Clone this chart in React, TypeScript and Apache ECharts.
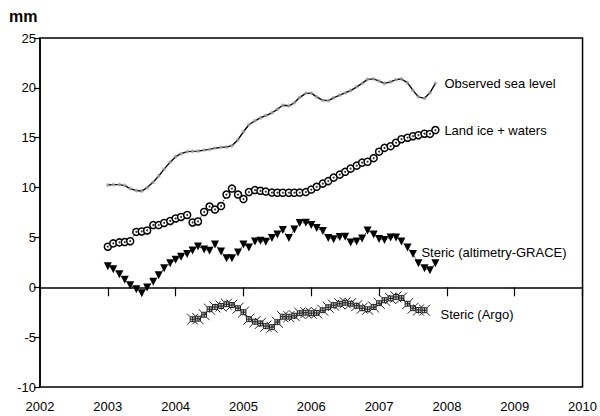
import React, { useEffect, useRef } from "react";
import * as echarts from "echarts";

// decimal years, monthly from Jan 2003 to Nov 2007
const months = [
  2003.0, 2003.08, 2003.17, 2003.25, 2003.33, 2003.42, 2003.5, 2003.58, 2003.67, 2003.75, 2003.83, 2003.92,
  2004.0, 2004.08, 2004.17, 2004.25, 2004.33, 2004.42, 2004.5, 2004.58, 2004.67, 2004.75, 2004.83, 2004.92,
  2005.0, 2005.08, 2005.17, 2005.25, 2005.33, 2005.42, 2005.5, 2005.58, 2005.67, 2005.75, 2005.83, 2005.92,
  2006.0, 2006.08, 2006.17, 2006.25, 2006.33, 2006.42, 2006.5, 2006.58, 2006.67, 2006.75, 2006.83, 2006.92,
  2007.0, 2007.08, 2007.17, 2007.25, 2007.33, 2007.42, 2007.5, 2007.58, 2007.67, 2007.75, 2007.83,
];

const observed = [
  10.26, 10.3, 10.3, 10.2, 9.9, 9.7, 9.65, 10.0, 10.55, 11.15,
  11.85, 12.55, 13.1, 13.4, 13.6, 13.63, 13.66, 13.75, 13.83, 13.95,
  14.03, 14.07, 14.2, 14.8, 15.6, 16.3, 16.7, 17.0, 17.22, 17.5,
  17.85, 18.25, 18.2, 18.5, 19.05, 19.45, 19.47, 19.1, 18.75, 18.72,
  19.0, 19.28, 19.5, 19.72, 20.1, 20.45, 20.85, 20.9, 20.68, 20.45,
  20.6, 20.83, 20.89, 20.5, 19.75, 19.1, 18.95, 19.5, 20.46,
];

const landIce = [
  4.07, 4.4, 4.5, 4.54, 4.62, 5.55, 5.6, 5.7, 6.24, 6.24,
  6.45, 6.65, 6.9, 7.05, 7.25, 6.5, 6.6, 7.55, 8.1, 7.8,
  8.15, 9.3, 9.9, 9.3, 8.85, 9.55, 9.75, 9.68, 9.6, 9.5,
  9.48, 9.48, 9.48, 9.48, 9.5, 9.55, 9.8, 10.08, 10.4, 10.65,
  11.0, 11.3, 11.58, 11.9, 12.2, 12.5, 12.59, 12.95, 13.6, 13.98,
  14.15, 14.5, 14.85, 15.0, 15.15, 15.25, 15.4, 15.38, 15.77,
];

const stericGrace = [
  2.1, 1.8, 1.3, 0.75, 0.2, -0.2, -0.6, -0.01, 0.55, 1.2,
  1.9, 2.4, 2.75, 3.05, 3.35, 3.7, 4.1, 3.8, 3.67, 4.3,
  3.6, 2.9, 2.9, 3.5, 4.3, 4.0, 4.6, 4.67, 4.57, 4.95,
  5.3, 5.75, 4.95, 5.8, 6.45, 6.47, 6.25, 5.95, 5.65, 4.95,
  4.82, 5.05, 5.07, 4.5, 4.6, 4.9, 5.7, 5.3, 4.85, 4.75,
  5.0, 5.0, 4.6, 4.0, 3.35, 2.4, 1.9, 1.7, 2.4,
];

// Argo record: Apr 2004 to Sep 2007
const argoMonths = months.slice(15, 57);
const stericArgo = [
  -3.2, -3.15, -2.75, -2.2, -1.97, -1.88, -1.7, -1.78, -2.1, -2.5,
  -3.2, -3.45, -3.62, -3.9, -4.0, -3.5, -2.95, -2.95, -2.85, -2.6,
  -2.55, -2.6, -2.57, -2.3, -2.0, -1.8, -1.65, -1.55, -1.65, -1.85,
  -2.1, -2.2, -1.98, -1.6, -1.3, -1.12, -0.97, -1.08, -1.65, -2.1,
  -2.28, -2.3,
];

const seriesNames = [
  "Observed sea level",
  "Land ice + waters",
  "Steric (altimetry-GRACE)",
  "Steric (Argo)",
];

const FONT = "'Liberation Sans', Arial, Helvetica, sans-serif";

const pair = (xs: number[], ys: number[]) => ys.map((y, i) => [xs[i], y]);

const ASTERISK = "path://M5,0L5,10M0,5L10,5M1.5,1.5L8.5,8.5M1.5,8.5L8.5,1.5";
const ARGO =
  "path://M6,6L14,6L14,14L6,14Z M6,6L1,1 M14,6L19,1 M14,14L19,19 M6,14L1,19 M6,10L14,10 M10,6L10,14";

export default function App() {
  const ref = useRef<HTMLDivElement>(null);
  useEffect(() => {
    const chart = echarts.init(ref.current!, null, { renderer: "svg" });
    const labelStyle = { show: true, fontSize: 13, color: "#000", fontFamily: FONT };
    chart.setOption({
      animation: false,
      backgroundColor: "#fff",
      textStyle: { fontFamily: FONT },
      grid: {
        left: 40,
        right: 16,
        top: 38,
        bottom: 29,
        show: true,
        borderColor: "#000",
        borderWidth: 1.5,
        backgroundColor: "transparent",
      },
      graphic: [
        {
          type: "text",
          left: 9,
          top: 8,
          style: { text: "mm", fontSize: 16, fontWeight: "bold", fill: "#000", fontFamily: FONT },
        },
      ],
      xAxis: {
        type: "value",
        min: 2002,
        max: 2010,
        interval: 1,
        axisLine: { show: true, lineStyle: { color: "#000", width: 1.5 } },
        axisTick: { show: true, length: 9, lineStyle: { color: "#000", width: 1.2 } },
        splitLine: { show: false },
        axisLabel: { color: "#000", fontSize: 13, margin: 13, formatter: (v: number) => String(v) },
      },
      yAxis: {
        type: "value",
        min: -10,
        max: 25,
        interval: 5,
        axisLine: { show: true, lineStyle: { color: "#000", width: 1.5 } },
        axisTick: { show: true, length: 6, lineStyle: { color: "#000", width: 1.2 } },
        splitLine: { show: false },
        axisLabel: { color: "#000", fontSize: 13, margin: 4 },
      },
      series: [
        {
          name: seriesNames[0],
          type: "line",
          data: pair(months, observed),
          symbol: ASTERISK,
          symbolSize: 4,
          itemStyle: { color: "#aaa", borderColor: "#999", borderWidth: 0.8 },
          lineStyle: { color: "#000", width: 1.4 },
          endLabel: { ...labelStyle, formatter: seriesNames[0], distance: 9 },
          z: 3,
        },
        {
          name: seriesNames[1],
          type: "line",
          data: pair(months, landIce),
          symbol: "circle",
          symbolSize: 7,
          itemStyle: { color: "#fff", borderColor: "#000", borderWidth: 1.5 },
          lineStyle: { color: "#000", width: 1, type: "dotted" },
          endLabel: { ...labelStyle, formatter: seriesNames[1], distance: 9 },
          z: 3,
        },
        {
          name: seriesNames[1] + " centre",
          type: "scatter",
          data: pair(months, landIce),
          symbol: "circle",
          symbolSize: 2,
          itemStyle: { color: "#000" },
          silent: true,
          z: 4,
        },
        {
          name: seriesNames[2],
          type: "line",
          data: pair(months, stericGrace),
          symbol: "triangle",
          symbolRotate: 180,
          symbolSize: 8,
          itemStyle: { color: "#000" },
          lineStyle: { color: "#000", width: 1, type: "dotted" },
          endLabel: { ...labelStyle, formatter: seriesNames[2], distance: 0, offset: [-14, -11] },
          z: 3,
        },
        {
          name: seriesNames[3],
          type: "line",
          data: pair(argoMonths, stericArgo),
          symbol: ARGO,
          symbolSize: 11,
          itemStyle: { color: "#ccc", borderColor: "#222", borderWidth: 1 },
          lineStyle: { color: "#222", width: 1 },
          endLabel: { ...labelStyle, formatter: seriesNames[3], distance: 10, offset: [6, 4] },
          z: 3,
        },
      ],
    });
    return () => chart.dispose();
  }, []);
  return (
    <div
      ref={ref}
      style={{ position: "fixed", left: 0, top: 0, width: 600, height: 416, background: "#fff" }}
    />
  );
}
